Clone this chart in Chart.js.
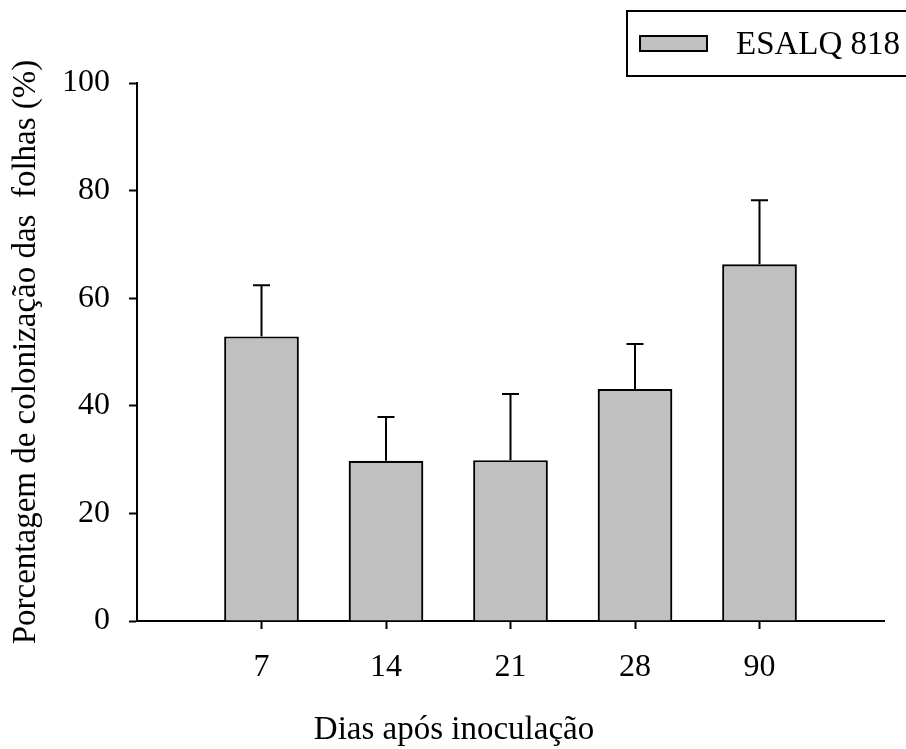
<!DOCTYPE html>
<html>
<head>
<meta charset="utf-8">
<script src="https://cdn.jsdelivr.net/npm/chart.js@4.4.1/dist/chart.umd.min.js"></script>
<style>
  html, body { margin: 0; padding: 0; background: #fff; }
  #wrap { width: 906px; height: 749px; position: relative; }
</style>
</head>
<body>
<div id="wrap"><canvas id="c" width="906" height="749"></canvas></div>
<script>
// Days after inoculation and mean leaf colonization (%) with upper error
const days = ['7', '14', '21', '28', '90'];
const colonization = [52.9, 29.8, 29.9, 43.1, 66.3];
const errorUpper = [9.5, 8.1, 12.3, 8.4, 11.9];
const yTicks = [0, 20, 40, 60, 80, 100];
const seriesName = 'ESALQ 818';
const yTitle = 'Porcentagem de colonização das  folhas (%)';
const xTitle = 'Dias após inoculação';

const FONT = "'Liberation Serif', 'Times New Roman', serif";
const BAR_FILL = '#c0c0c0';

// Bars sit at positions 1..n on a linear axis running from 0 to n+1
const points = days.map((d, i) => ({ x: i + 1, y: colonization[i] }));

// Upper error whiskers with a short cap
const errorBars = {
  id: 'errorBars',
  afterDatasetsDraw(chart) {
    const ctx = chart.ctx;
    const y = chart.scales.y;
    const meta = chart.getDatasetMeta(0);
    ctx.save();
    ctx.strokeStyle = '#000';
    ctx.lineWidth = 2;
    meta.data.forEach((bar, i) => {
      const top = y.getPixelForValue(colonization[i] + errorUpper[i]);
      ctx.beginPath();
      ctx.moveTo(bar.x, bar.y);
      ctx.lineTo(bar.x, top);
      ctx.moveTo(bar.x - 8.5, top);
      ctx.lineTo(bar.x + 8.5, top);
      ctx.stroke();
    });
    ctx.restore();
  }
};

// Boxed legend in the upper right corner and the x-axis caption
const decorations = {
  id: 'decorations',
  afterDraw(chart) {
    const ctx = chart.ctx;
    const ds = chart.data.datasets[0];
    ctx.save();
    // legend frame
    ctx.strokeStyle = '#000';
    ctx.lineWidth = 2;
    ctx.strokeRect(627, 11, 300, 65);
    // swatch
    ctx.fillStyle = ds.backgroundColor;
    ctx.fillRect(640, 36, 67, 15);
    ctx.strokeRect(640, 36, 67, 15);
    // label
    ctx.fillStyle = '#000';
    ctx.font = '33px ' + FONT;
    ctx.textAlign = 'left';
    ctx.textBaseline = 'alphabetic';
    ctx.fillText(ds.label, 736, 54);
    // x-axis caption
    ctx.textAlign = 'center';
    ctx.fillText(xTitle, 454, 739);
    ctx.restore();
  }
};

new Chart(document.getElementById('c'), {
  type: 'bar',
  data: {
    datasets: [{
      label: seriesName,
      data: points,
      backgroundColor: BAR_FILL,
      borderColor: '#000',
      borderWidth: 2.2,
      categoryPercentage: 0.6,
      barPercentage: 1.0
    }]
  },
  options: {
    responsive: false,
    animation: false,
    layout: { padding: { top: 83, right: 22, left: 0, bottom: 0 } },
    plugins: {
      legend: { display: false },
      tooltip: { enabled: false }
    },
    scales: {
      x: {
        type: 'linear',
        offset: false,
        min: 0,
        max: days.length + 1,
        afterBuildTicks(scale) {
          scale.ticks = days.map((d, i) => ({ value: i + 1 }));
        },
        afterFit(scale) { scale.height = 128; },
        ticks: {
          color: '#000',
          font: { family: FONT, size: 32 },
          padding: 19,
          maxRotation: 0,
          autoSkip: false,
          callback: (v) => days[v - 1]
        },
        grid: {
          offset: false,
          drawOnChartArea: false,
          drawTicks: true,
          tickLength: 8,
          tickWidth: 2,
          tickColor: '#000'
        },
        border: { display: true, color: '#000', width: 2 }
      },
      y: {
        min: yTicks[0],
        max: yTicks[yTicks.length - 1],
        afterBuildTicks(scale) {
          scale.ticks = yTicks.map(v => ({ value: v }));
        },
        afterFit(scale) { scale.width = 137; },
        ticks: {
          color: '#000',
          font: { family: FONT, size: 32 },
          padding: 19
        },
        grid: {
          drawOnChartArea: false,
          drawTicks: true,
          tickLength: 8,
          tickWidth: 2,
          tickColor: '#000'
        },
        border: { display: true, color: '#000', width: 2 },
        title: {
          display: true,
          text: yTitle,
          color: '#000',
          font: { family: FONT, size: 33 },
          padding: { top: 7, bottom: 0 }
        }
      }
    }
  },
  plugins: [errorBars, decorations]
});
</script>
</body>
</html>
